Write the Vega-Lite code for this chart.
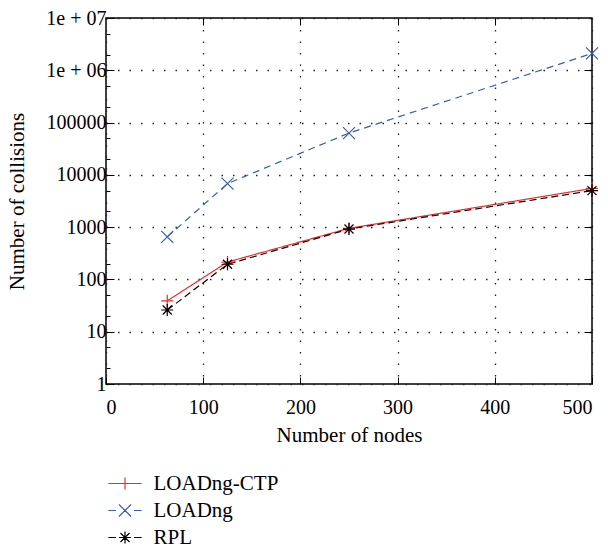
{
  "$schema": "https://vega.github.io/schema/vega-lite/v6.json",
  "width": 486,
  "height": 366,
  "autosize": {"type": "none"},
  "padding": {"left": 106, "top": 18, "right": 16, "bottom": 163},
  "config": {
    "font": "Liberation Serif",
    "view": {"stroke": "black", "strokeWidth": 1.5},
    "axis": {
      "labelFont": "Liberation Serif",
      "titleFont": "Liberation Serif",
      "labelFontSize": 20,
      "titleFontSize": 21,
      "titleFontWeight": "normal",
      "labelColor": "black",
      "titleColor": "black",
      "domain": false,
      "tickColor": "black",
      "tickWidth": 1,
      "gridColor": "#222222",
      "gridDash": [1.5, 10],
      "gridWidth": 1.3,
      "gridOpacity": 1
    },
    "legend": {
      "labelFont": "Liberation Serif",
      "labelFontSize": 21,
      "labelColor": "black",
      "padding": 0
    }
  },
  "data": {
    "values": [
      {"nodes": 63, "collisions": 39, "protocol": "LOADng-CTP"},
      {"nodes": 125, "collisions": 215, "protocol": "LOADng-CTP"},
      {"nodes": 250, "collisions": 950, "protocol": "LOADng-CTP"},
      {"nodes": 500, "collisions": 5500, "protocol": "LOADng-CTP"},
      {"nodes": 63, "collisions": 650, "protocol": "LOADng"},
      {"nodes": 125, "collisions": 6800, "protocol": "LOADng"},
      {"nodes": 250, "collisions": 63000, "protocol": "LOADng"},
      {"nodes": 500, "collisions": 2100000, "protocol": "LOADng"},
      {"nodes": 63, "collisions": 26, "protocol": "RPL"},
      {"nodes": 125, "collisions": 195, "protocol": "RPL"},
      {"nodes": 250, "collisions": 920, "protocol": "RPL"},
      {"nodes": 500, "collisions": 5000, "protocol": "RPL"}
    ]
  },
  "layer": [
    {
      "mark": {"type": "line", "strokeWidth": 1.2},
      "encoding": {
        "x": {
          "field": "nodes", "type": "quantitative",
          "scale": {"domain": [0, 500], "nice": false, "zero": false},
          "axis": {"orient": "bottom", "values": [0, 100, 200, 300, 400, 500], "title": "Number of nodes", "tickSize": -7, "labelPadding": 20, "titlePadding": 7, "grid": true}
        },
        "y": {
          "field": "collisions", "type": "quantitative",
          "scale": {"type": "log", "domain": [1, 10000000], "nice": false},
          "axis": {"orient": "left", "values": [1, 10, 100, 1000, 10000, 100000, 1000000, 10000000], "labelExpr": "datum.value >= 5000000 ? '1e + 07' : datum.value >= 500000 ? '1e + 06' : format(datum.value, 'd')", "title": "Number of collisions", "tickSize": -8, "labelPadding": 8, "titlePadding": 18, "grid": true}
        },
        "color": {
          "field": "protocol", "type": "nominal",
          "scale": {"domain": ["LOADng-CTP", "LOADng", "RPL"], "range": ["#ee2a2a", "#3a5dae", "#000000"]},
          "legend": null
        },
        "strokeDash": {
          "field": "protocol", "type": "nominal",
          "scale": {"domain": ["LOADng-CTP", "LOADng", "RPL"], "range": [[1, 0], [7, 5], [7, 4]]},
          "legend": null
        }
      }
    },
    {
      "mark": {"type": "point", "filled": false, "size": 144, "strokeWidth": 1.2, "opacity": 1},
      "encoding": {
        "x": {
          "field": "nodes", "type": "quantitative",
          "scale": {"domain": [0, 500], "nice": false, "zero": false},
          "axis": {"orient": "top", "values": [100, 200, 300, 400], "labels": false, "title": null, "tickSize": -7, "grid": false}
        },
        "y": {
          "field": "collisions", "type": "quantitative",
          "scale": {"type": "log", "domain": [1, 10000000], "nice": false},
          "axis": {"orient": "right", "values": [10, 100, 1000, 10000, 100000, 1000000], "labels": false, "title": null, "tickSize": -8, "grid": false}
        },
        "color": {"field": "protocol", "type": "nominal", "legend": null},
        "shape": {
          "field": "protocol", "type": "nominal",
          "scale": {"domain": ["LOADng-CTP", "LOADng", "RPL"], "range": ["M-1,0H1M0,-1V1", "M-1,-1L1,1M-1,1L1,-1", "M-1,0H1M0,-1V1M-0.75,-0.75L0.75,0.75M-0.75,0.75L0.75,-0.75"]},
          "legend": null
        }
      }
    },
    {
      "transform": [{"filter": "datum.protocol === 'LOADng-CTP'"}],
      "mark": {"type": "point", "filled": false, "color": "#ee2a2a", "strokeWidth": 1.2, "opacity": 1, "xOffset": 3000, "clip": true},
      "encoding": {
        "x": {"field": "nodes", "type": "quantitative", "scale": {"domain": [0, 500], "nice": false, "zero": false}, "axis": null},
        "y": {
          "field": "collisions", "type": "quantitative",
          "scale": {"type": "log", "domain": [1, 10000000], "nice": false},
          "axis": {"orient": "left", "values": [2, 5, 20, 50, 200, 500, 2000, 5000, 20000, 50000, 200000, 500000, 2000000, 5000000], "labels": false, "title": null, "tickSize": -4, "grid": false}
        },
        "shape": {
          "field": "protocol", "type": "nominal",
          "scale": {"domain": ["LOADng-CTP"], "range": ["M-1.85,0H1.85M0,-0.67V0.67"]},
          "legend": {"title": null, "orient": "none", "legendX": 8.5, "legendY": 455, "symbolSize": 324, "symbolStrokeWidth": 1.2, "symbolStrokeColor": "#ee2a2a", "symbolOpacity": 1, "labelOffset": 18}
        }
      }
    },
    {
      "transform": [{"filter": "datum.protocol === 'LOADng'"}],
      "mark": {"type": "point", "filled": false, "color": "#3a5dae", "strokeWidth": 1.2, "opacity": 1, "xOffset": 3000, "clip": true},
      "encoding": {
        "x": {"field": "nodes", "type": "quantitative", "scale": {"domain": [0, 500], "nice": false, "zero": false}, "axis": null},
        "y": {"field": "collisions", "type": "quantitative", "scale": {"type": "log", "domain": [1, 10000000], "nice": false}, "axis": null},
        "shape": {
          "field": "protocol", "type": "nominal",
          "scale": {"domain": ["LOADng"], "range": ["M-1.85,0H-1M1,0H1.85M-0.67,-0.67L0.67,0.67M-0.67,0.67L0.67,-0.67"]},
          "legend": {"title": null, "orient": "none", "legendX": 8.5, "legendY": 482, "symbolSize": 324, "symbolStrokeWidth": 1.2, "symbolStrokeColor": "#3a5dae", "symbolOpacity": 1, "labelOffset": 18}
        }
      }
    },
    {
      "transform": [{"filter": "datum.protocol === 'RPL'"}],
      "mark": {"type": "point", "filled": false, "color": "#000000", "strokeWidth": 1.2, "opacity": 1, "xOffset": 3000, "clip": true},
      "encoding": {
        "x": {"field": "nodes", "type": "quantitative", "scale": {"domain": [0, 500], "nice": false, "zero": false}, "axis": null},
        "y": {"field": "collisions", "type": "quantitative", "scale": {"type": "log", "domain": [1, 10000000], "nice": false}, "axis": null},
        "shape": {
          "field": "protocol", "type": "nominal",
          "scale": {"domain": ["RPL"], "range": ["M-1.85,0H-1M1,0H1.85M-0.67,0H0.67M0,-0.67V0.67M-0.5,-0.5L0.5,0.5M-0.5,0.5L0.5,-0.5"]},
          "legend": {"title": null, "orient": "none", "legendX": 8.5, "legendY": 509, "symbolSize": 324, "symbolStrokeWidth": 1.2, "symbolStrokeColor": "#000000", "symbolOpacity": 1, "labelOffset": 18}
        }
      }
    }
  ],
  "resolve": {
    "scale": {"shape": "independent"},
    "axis": {"x": "independent", "y": "independent"}
  }
}
